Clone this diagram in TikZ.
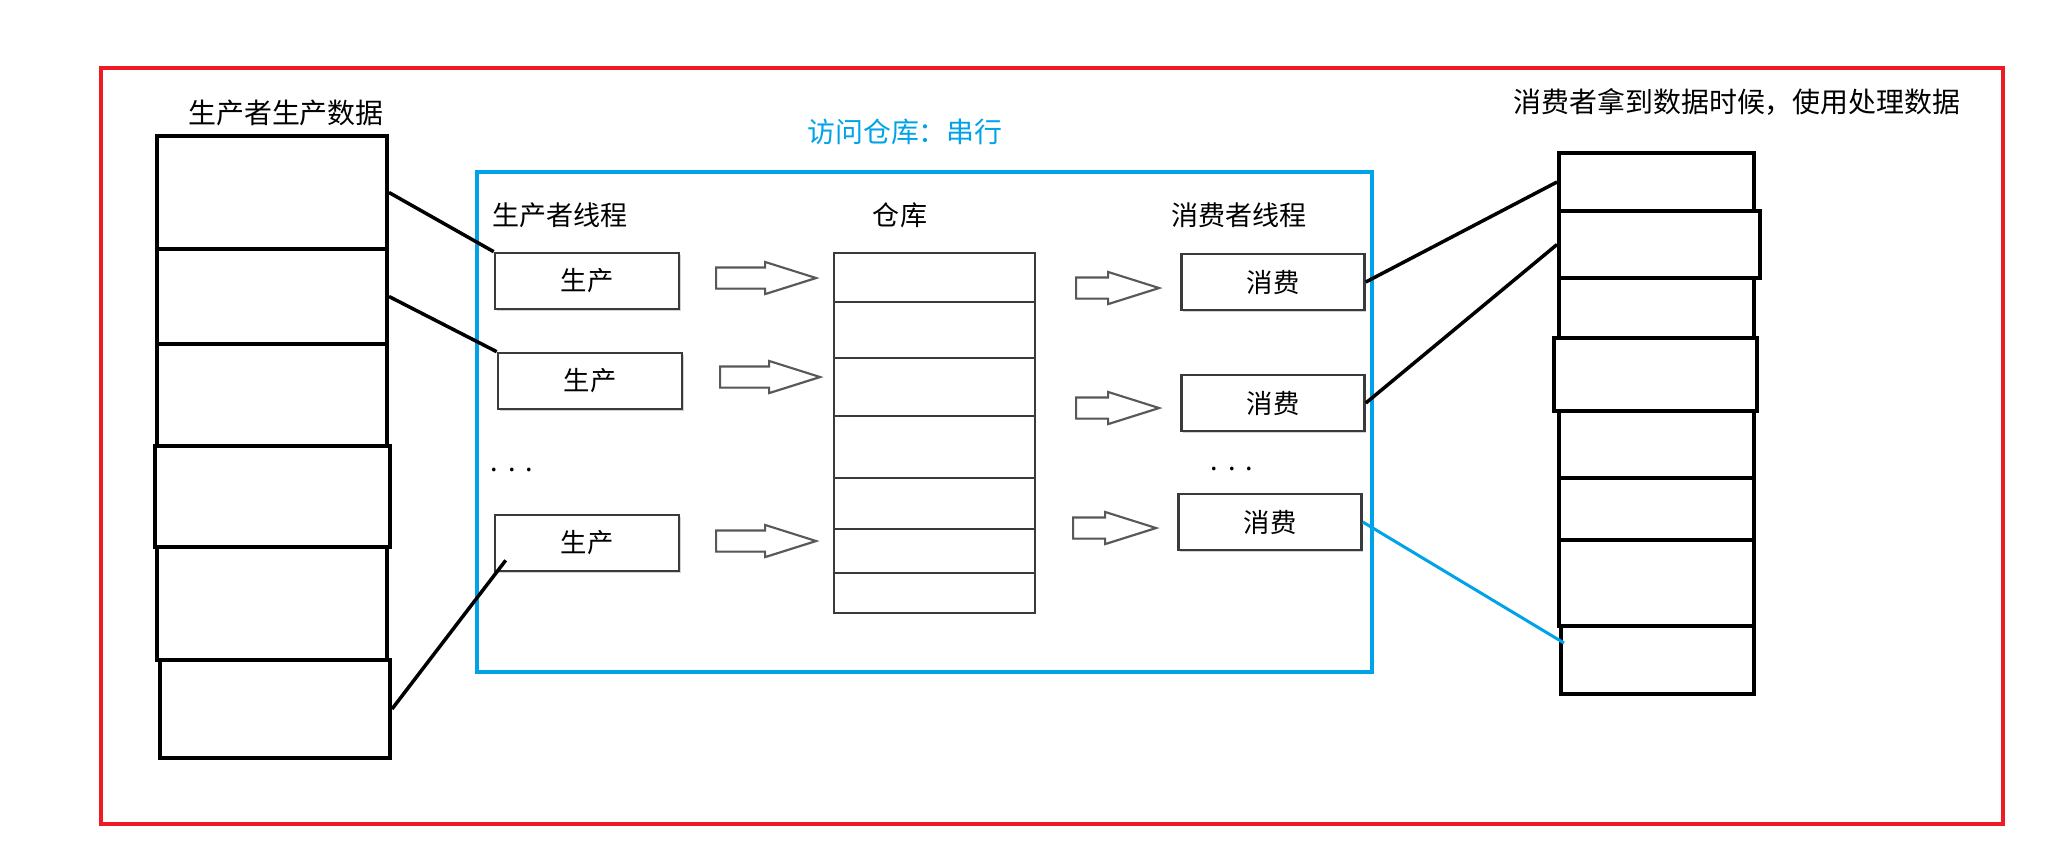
\documentclass[tikz,border=0pt]{standalone}
\usepackage{fontspec}
\usepackage{xcolor}
\usepackage{tikz}
\usetikzlibrary{calc,fit,shapes.arrows,shadows}
\newfontfamily\cjk{Noto Sans CJK SC}
\definecolor{paintred}{HTML}{ED1C24}
\definecolor{paintblue}{HTML}{00A2E8}
\definecolor{scan}{HTML}{3A3A3A}
\tikzset{
  cellbox/.style={draw,line width=0.08cm,inner sep=0pt},
  whcell/.style={draw=scan,line width=1.2pt,inner sep=0pt},
  thread/.style={draw=scan,line width=1.5pt,fill=white,minimum height=1.12cm,inner sep=0pt,
    font=\cjk\fontsize{15}{17}\selectfont,
    drop shadow={shadow xshift=1pt,shadow yshift=-1pt,opacity=0.35}},
  blockarr/.style={single arrow,draw=scan!85,fill=white,line width=1.2pt,inner sep=0pt,anchor=tail,
    text height=0.19cm,text depth=0.19cm,single arrow head extend=0.11cm,single arrow tip angle=35,
    drop shadow={shadow xshift=0.6pt,shadow yshift=-0.6pt,opacity=0.3}},
  bigtxt/.style={font=\cjk\fontsize{15.9}{18}\selectfont},
  smalltxt/.style={font=\cjk\fontsize{15.4}{17}\selectfont},
  link/.style={line width=0.07cm}
}

\begin{document}
\begin{tikzpicture}[x=0.02cm,y=-0.02cm]
\useasboundingbox (0,0) rectangle (2057,867);
\draw[paintred,line width=0.07cm] (101,68) rectangle (2003,824);
\draw[paintblue,line width=0.08cm] (477,172) rectangle (1372,672);
\node[bigtxt] (ltitle) at (286,113) {生产者生产数据};
\node[bigtxt] (rtitle) at (1737,102) {消费者拿到数据时候，使用处理数据};
\node[bigtxt,text=paintblue] (stitle) at (905,132) {访问仓库：串行};
\node[smalltxt] (ptitle) at (560,215) {生产者线程};
\node[smalltxt] (wtitle) at (900,215) {仓库};
\node[smalltxt] (ctitle) at (1239,215) {消费者线程};
\foreach \i/\xa/\ya/\xb/\yb in {1/157/136/387/249,2/157/249/387/344,3/157/344/387/446,
  4/155/446/390/547,5/157/547/387/660,6/160/660/390/758}
  \node[cellbox,fit={(\xa,\ya) (\xb,\yb)}] (lc\i) {};
\foreach \i/\xa/\ya/\xb/\yb in {1/1559/153/1754/211,2/1559/211/1760/278,3/1559/278/1754/338,
  4/1554/338/1757/411,5/1559/411/1754/478,6/1559/478/1754/540,7/1559/540/1754/626,8/1561/626/1754/694}
  \node[cellbox,fit={(\xa,\ya) (\xb,\yb)}] (rc\i) {};
\foreach \i/\ya/\yb in {1/253/302,2/302/358,3/358/416,4/416/478,5/478/529,6/529/573,7/573/613}
  \node[whcell,fit={(834,\ya) (1035,\yb)}] (w\i) {};
\node[thread,minimum width=3.68cm] (p1) at (587,281) {生产};
\node[thread,minimum width=3.68cm] (p2) at (590,381) {生产};
\node[thread,minimum width=3.68cm] (p3) at (587,543) {生产};
\node[thread,minimum width=3.66cm] (c1) at (1273,282) {消费};
\node[thread,minimum width=3.66cm] (c2) at (1273,403) {消费};
\node[thread,minimum width=3.66cm] (c3) at (1270,522) {消费};
\node[smalltxt] (pdots) at (512,470) {.\hskip0.2cm.\hskip0.2cm.};
\node[smalltxt] (cdots) at (1232,469) {.\hskip0.2cm.\hskip0.2cm.};
\foreach \n/\xx/\yy in {pa1/715/278,pa2/719/377,pa3/715/541}
  \node[blockarr,minimum height=2cm] (\n) at (\xx,\yy) {};
\foreach \n/\xx/\yy in {ca1/1075/288,ca2/1075/408,ca3/1072/528}
  \node[blockarr,minimum height=1.66cm] (\n) at (\xx,\yy) {};
\draw[link] (lc1.east) -- (p1.north west);
\draw[link] (lc2.east) -- (p2.north west);
\draw[link] (lc6.east) -- ($(p3.south west)+(12,-12)$);
\draw[link] (c1.east) -- (rc1.west);
\draw[link] (c2.east) -- (rc2.west);
\draw[link,paintblue,line width=0.06cm] (c3.east) -- ($(rc8.west)+(5,-17)$);
\end{tikzpicture}
\end{document}
